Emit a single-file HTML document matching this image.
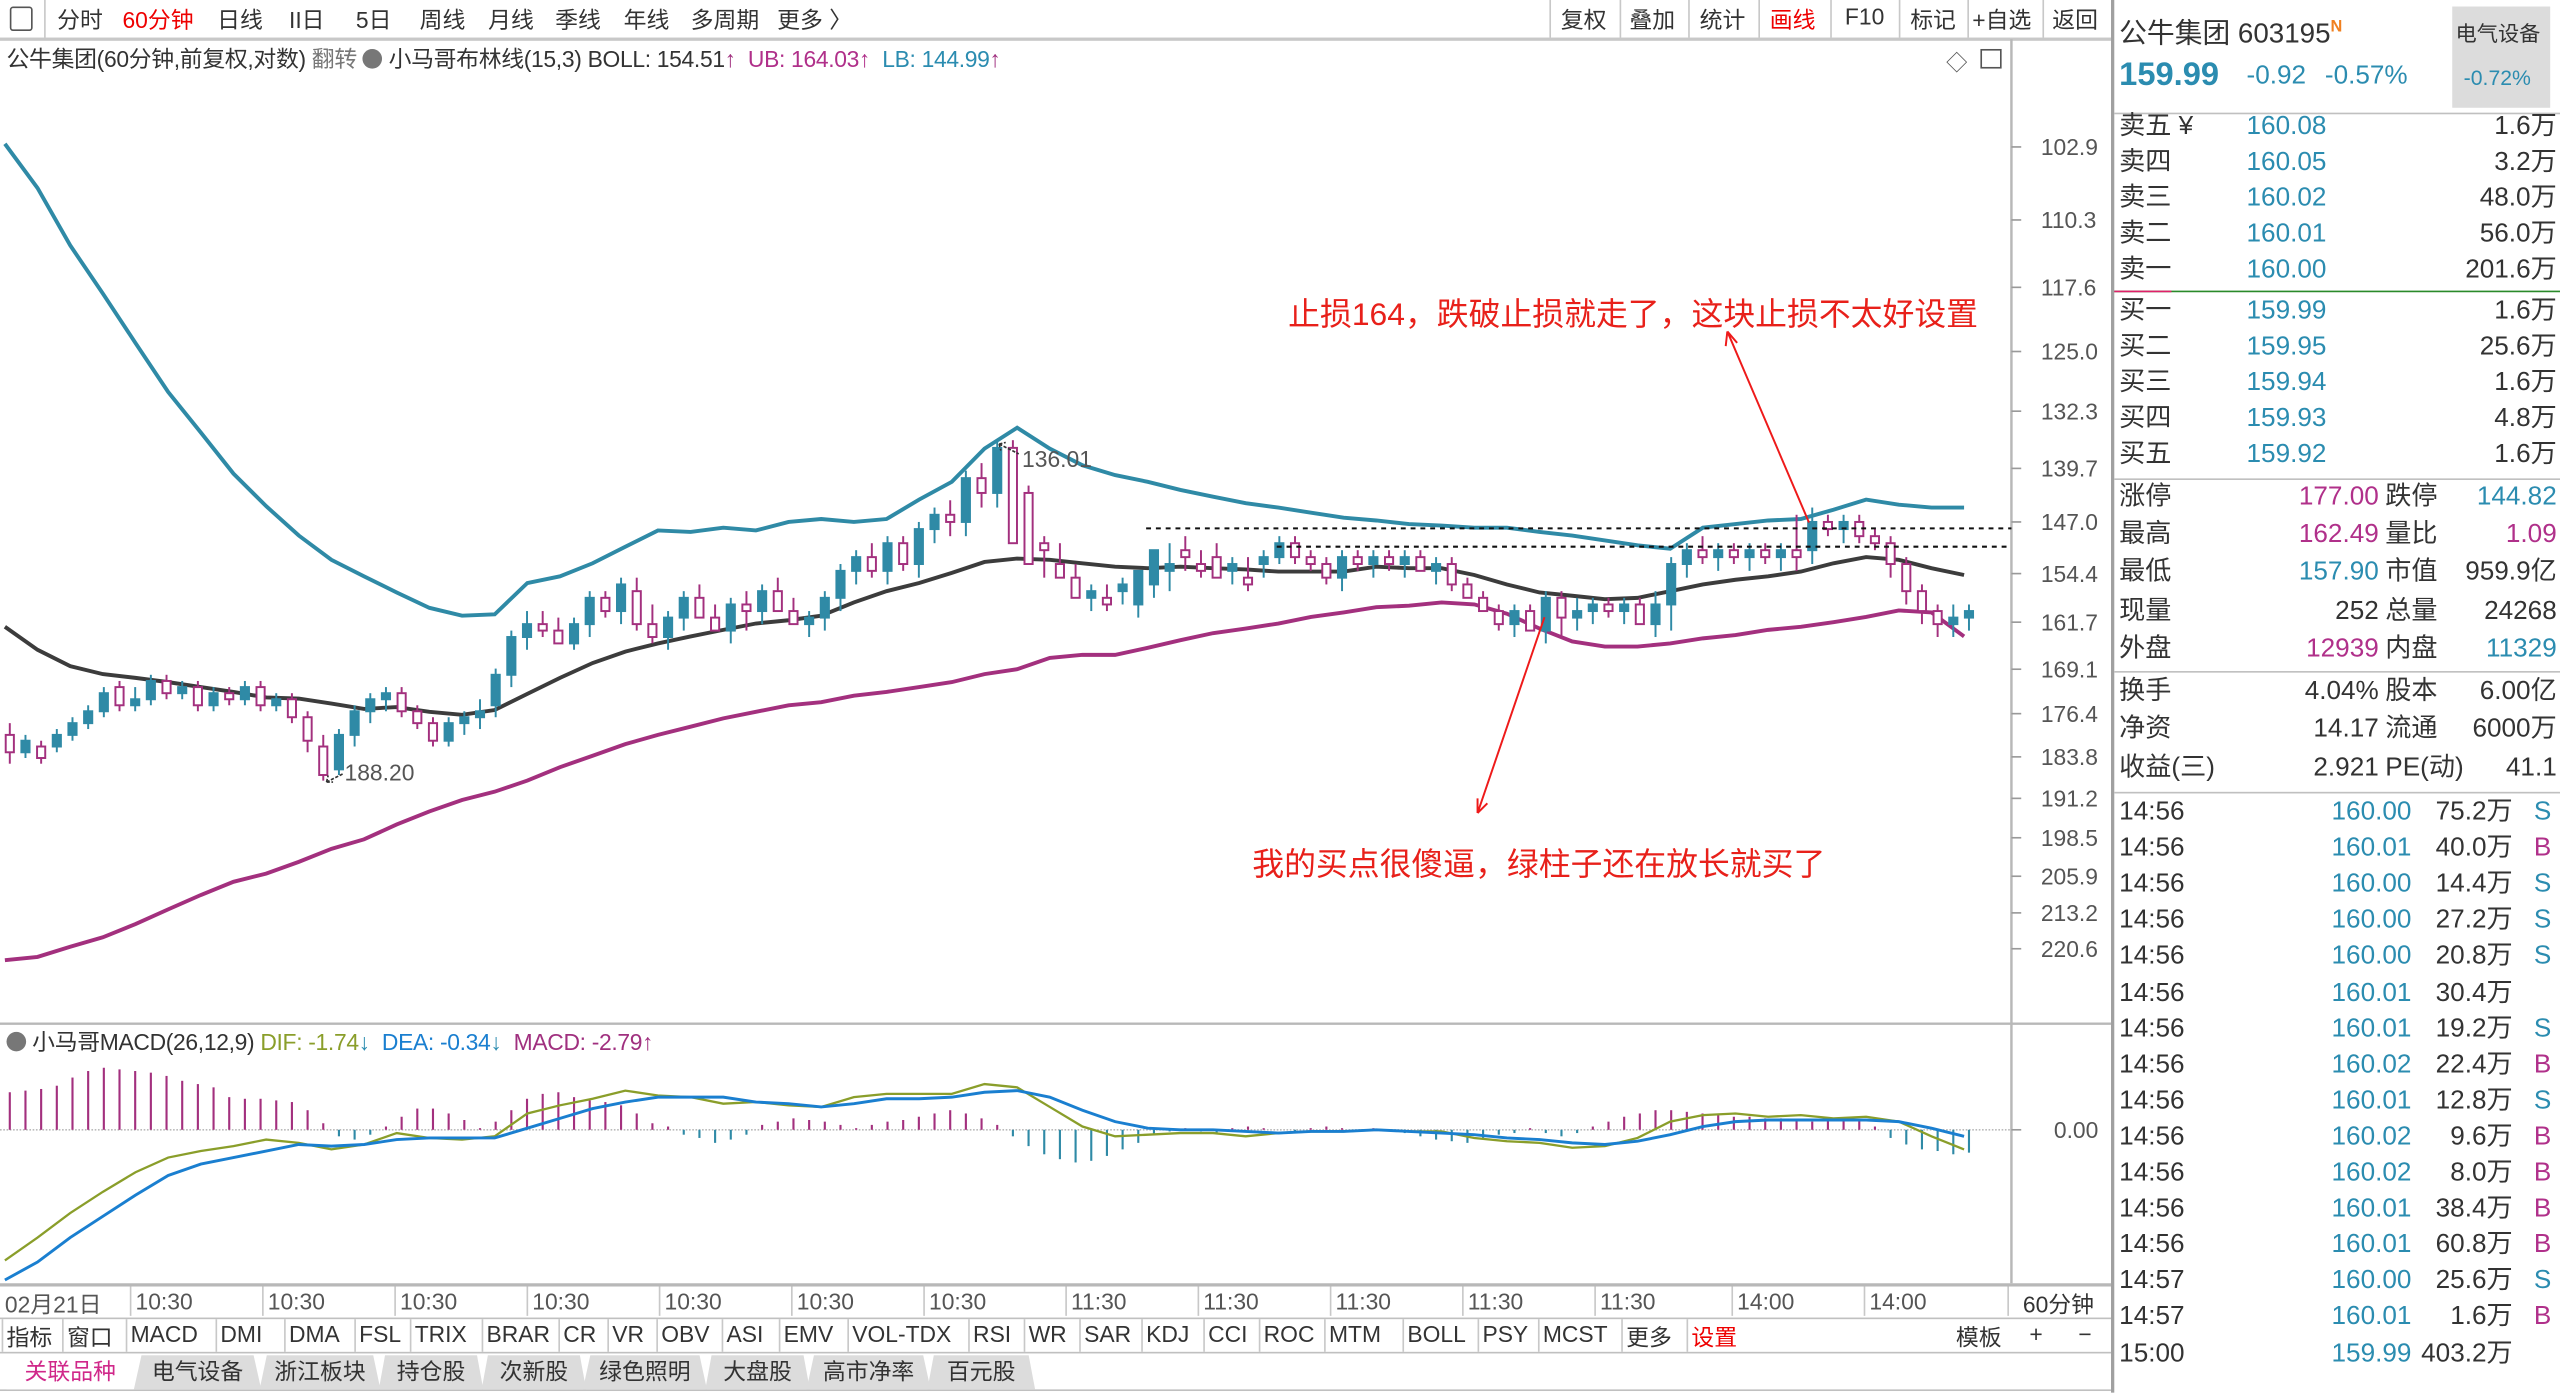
<!DOCTYPE html>
<html><head><meta charset="utf-8">
<style>
html,body{margin:0;padding:0;background:#fff;overflow:hidden;}
body{width:2560px;height:1392px;}
#wrap{position:absolute;left:0;top:0;width:1568px;height:853px;transform:scale(1.63265);transform-origin:0 0;font-family:"Liberation Sans","Noto Sans CJK SC",sans-serif;color:#333;background:#fff;}
.a{position:absolute;white-space:nowrap;}
.tb{font-size:14px;top:2px;color:#333;}
.sep{position:absolute;width:1px;background:#c8c8c8;}
.hl{position:absolute;height:1px;background:#c0c0c0;}
.tm{font-size:14px;color:#555;top:789px;}
.ind{font-size:14px;top:809px;color:#333;}
.tab{position:absolute;top:830px;height:21px;font-size:14px;line-height:21px;text-align:center;background:#dcdcdc;color:#333;clip-path:polygon(6% 0,94% 0,100% 100%,0 100%);}
.rp{font-size:16px;color:#333;line-height:20px;height:20px;}
.teal{color:#2b8cb0;}
.mag{color:#b0308a;}
.r{text-align:right;}
</style></head><body>
<div id="wrap">
<!-- toolbar -->
<div class="a" style="left:0;top:0;width:1293px;height:23px;border-bottom:2px solid #c8c8c8;"></div>
<div class="a" style="left:6px;top:4px;width:12px;height:13px;border:1.5px solid #555;border-radius:2px;"></div>
<div class="sep" style="left:27px;top:0;height:23px;"></div>
<div class="a tb" style="left:35px;">分时</div>
<div class="a tb" style="left:75px;color:#e00;">60分钟</div>
<div class="a tb" style="left:133px;">日线</div>
<div class="a tb" style="left:177px;">II日</div>
<div class="a tb" style="left:218px;">5日</div>
<div class="a tb" style="left:257px;">周线</div>
<div class="a tb" style="left:299px;">月线</div>
<div class="a tb" style="left:340px;">季线</div>
<div class="a tb" style="left:382px;">年线</div>
<div class="a tb" style="left:423px;">多周期</div>
<div class="a tb" style="left:476px;">更多 〉</div>
<div class="sep" style="left:949px;top:0;height:23px;"></div>
<div class="a tb" style="left:956px;">复权</div>
<div class="sep" style="left:992px;top:0;height:23px;"></div>
<div class="a tb" style="left:998px;">叠加</div>
<div class="sep" style="left:1034px;top:0;height:23px;"></div>
<div class="a tb" style="left:1041px;">统计</div>
<div class="sep" style="left:1077px;top:0;height:23px;"></div>
<div class="a tb" style="left:1084px;color:#e00;">画线</div>
<div class="sep" style="left:1121px;top:0;height:23px;"></div>
<div class="a tb" style="left:1130px;">F10</div>
<div class="sep" style="left:1163px;top:0;height:23px;"></div>
<div class="a tb" style="left:1170px;">标记</div>
<div class="sep" style="left:1205px;top:0;height:23px;"></div>
<div class="a tb" style="left:1208px;">+自选</div>
<div class="sep" style="left:1251px;top:0;height:23px;"></div>
<div class="a tb" style="left:1257px;">返回</div>

<!-- info line -->
<div class="a" style="left:4px;top:26px;font-size:14px;letter-spacing:-0.2px;">
<span style="color:#333">公牛集团(60分钟,前复权,对数)</span>
<span style="color:#777">翻转</span>
<span style="display:inline-block;width:12px;height:12px;border-radius:50%;background:#777;vertical-align:-1px;"></span>
<span>小马哥布林线(15,3)</span>
<span>BOLL: 154.51<span style="color:#a0307f">↑</span></span>
<span style="color:#b0308a">&nbsp;UB: 164.03<span>↑</span></span>
<span style="color:#2b8cb0">&nbsp;LB: 144.99<span style="color:#a0307f">↑</span></span>
</div>
<div class="a" style="left:1192px;top:28px;font-size:13px;color:#555;">◇</div>
<div class="a" style="left:1213px;top:30px;width:11px;height:10px;border:1.5px solid #555;"></div>

<svg class="a" id="chart" style="left:0;top:0;" width="1568" height="853" viewBox="0 0 1568 853"></svg>

<!-- annotations text -->
<div class="a" style="left:789px;top:176px;font-size:19.5px;color:#e8201a;">止损164，跌破止损就走了，这块止损不太好设置</div>
<div class="a" style="left:767px;top:513px;font-size:19.5px;color:#e8201a;">我的买点很傻逼，绿柱子还在放长就买了</div>
<div class="a" style="left:626px;top:273px;font-size:14px;color:#555;">136.01</div>
<div class="a" style="left:211px;top:465px;font-size:14px;color:#555;">188.20</div>

<!-- macd header -->
<div class="a" style="left:4px;top:628px;font-size:14px;letter-spacing:-0.2px;">
<span style="display:inline-block;width:12px;height:12px;border-radius:50%;background:#777;vertical-align:-1px;"></span>
<span>小马哥MACD(26,12,9)</span>
<span style="color:#8a9e2a">DIF: -1.74<span style="color:#2b8cb0">↓</span></span>
<span style="color:#1a7fd0">&nbsp;DEA: -0.34<span style="color:#2b8cb0">↓</span></span>
<span style="color:#a0307f">&nbsp;MACD: -2.79↑</span>
</div>
<div class="a" style="left:1258px;top:684px;font-size:14px;color:#555;">0.00</div>

<!-- time axis -->
<div class="hl" style="left:0;top:786px;width:1293px;background:#b8b8b8;height:2px;"></div>
<div class="a tm" style="left:3px;">02月21日</div>
<div class="a tm" style="left:83px;">10:30</div>
<div class="a tm" style="left:164px;">10:30</div>
<div class="a tm" style="left:245px;">10:30</div>
<div class="a tm" style="left:326px;">10:30</div>
<div class="a tm" style="left:407px;">10:30</div>
<div class="a tm" style="left:488px;">10:30</div>
<div class="a tm" style="left:569px;">10:30</div>
<div class="a tm" style="left:656px;">11:30</div>
<div class="a tm" style="left:737px;">11:30</div>
<div class="a tm" style="left:818px;">11:30</div>
<div class="a tm" style="left:899px;">11:30</div>
<div class="a tm" style="left:980px;">11:30</div>
<div class="a tm" style="left:1064px;">14:00</div>
<div class="a tm" style="left:1145px;">14:00</div>
<div class="a tm" style="left:1239px;color:#333;">60分钟</div>

<!-- indicator tabs -->
<div class="hl" style="left:0;top:807px;width:1293px;background:#c0c0c0;"></div>
<div class="hl" style="left:0;top:828px;width:1293px;background:#c0c0c0;"></div>
<div id="indrow"></div>
<div class="a ind" style="left:1198px;">模板</div>
<div class="a ind" style="left:1243px;">+</div>
<div class="a ind" style="left:1273px;">−</div>

<!-- bottom tabs -->
<div class="hl" style="left:0;top:851px;width:1293px;background:#c0c0c0;"></div>
<div class="tab" style="left:4px;width:78px;background:#fff;color:#d0288a;">关联品种</div>
<div class="tab" style="left:82px;width:78px;">电气设备</div>
<div class="tab" style="left:159px;width:74px;">浙江板块</div>
<div class="tab" style="left:232px;width:64px;">持仓股</div>
<div class="tab" style="left:295px;width:64px;">次新股</div>
<div class="tab" style="left:357px;width:76px;">绿色照明</div>
<div class="tab" style="left:432px;width:64px;">大盘股</div>
<div class="tab" style="left:494px;width:76px;">高市净率</div>
<div class="tab" style="left:568px;width:66px;">百元股</div>

<!-- right panel -->
<div class="sep" style="left:1293px;top:0;height:853px;background:#a0a0a0;width:2px;"></div>
<div class="a" style="left:1298px;top:6px;font-size:17px;color:#333;">公牛集团 603195<sup style="color:#f08020;font-size:10px;font-weight:bold;">N</sup></div>
<div class="a" style="left:1502px;top:4px;width:60px;height:62px;background:#dcdcdc;"></div>
<div class="a" style="left:1504px;top:10px;font-size:13px;color:#333;">电气设备</div>
<div class="a teal" style="left:1509px;top:40px;font-size:13px;">-0.72%</div>
<div class="a teal" style="left:1298px;top:35px;font-size:20px;font-weight:bold;">159.99</div>
<div class="a teal" style="left:1376px;top:38px;font-size:16px;">-0.92</div>
<div class="a teal" style="left:1424px;top:38px;font-size:16px;">-0.57%</div>
<div class="hl" style="left:1295px;top:69px;width:273px;"></div>
<div id="rpanel"></div>
</div>

<script>
// ---------- price data ----------
const opens = [180,183,182,182,180,178,176,172,175,174,171,173,172,175,173,174,172,175,174,177,
182,186,180,176,174,173,176,178,181,178,177,175,170,164,162,163,165,162,158,160,
157,162,164,161,158,161,163,159,160,157,160,162,161,158,154,152,154,150,153,148,
146,147,141,143,137,143,150,153,155,158,158,157,159,156,154,151,153,152,154,155,
153,152,150,152,153,155,152,153,152,153,152,154,153,156,158,160,162,160,163,158,
161,160,159,160,159,162,159,153,151,152,151,152,151,152,151,151,147,148,147,149,
150,153,157,160,162,161];
const closes = [183,181,184,180,178,176,173,175,174,171,173,172,175,173,174,172,175,174,177,181,
187,180,176,174,173,176,178,181,178,177,176,170,164,162,163,165,162,158,160,156,
162,164,161,158,161,163,159,160,157,160,162,161,158,154,152,154,150,153,148,146,
147,141,143,137,150,153,151,155,158,157,159,156,154,151,153,152,154,155,153,156,
152,150,152,153,155,152,153,152,153,152,154,153,156,158,160,162,160,163,158,161,
160,159,160,159,162,159,153,151,152,151,152,151,152,151,152,147,148,147,149,150,
153,157,160,162,161,160];
const highs = [185,184,185,183,181,179,177,176,176,175,174,174,176,176,175,175,176,176,178,183,
188,187,182,178,176,177,179,182,182,180,179,177,172,166,164,165,166,164,161,162,
163,165,166,163,161,163,165,163,162,160,162,164,163,160,156,155,156,154,155,150,
149,149,145,145,141,152,155,155,158,160,160,159,161,158,157,154,155,155,156,157,
155,153,153,154,156,157,154,155,154,155,154,156,157,158,160,163,164,162,165,164,
163,162,161,162,162,164,163,155,153,154,153,154,153,154,154,153,149,150,150,151,
155,159,162,164,164,163];
const lows = [178,180,181,179,177,175,172,171,172,170,170,171,171,172,172,171,171,173,173,176,
180,179,175,173,172,172,175,177,177,176,174,169,163,160,160,161,161,157,157,155,
155,159,160,157,156,159,158,157,156,155,158,160,157,153,151,150,149,149,147,145,
144,140,139,136,136,142,149,150,153,156,156,155,155,153,150,149,151,150,152,152,
151,149,149,151,152,151,151,151,151,151,151,152,152,155,157,159,159,159,157,157,
158,158,158,158,158,157,152,150,149,150,150,150,150,150,146,145,146,146,146,148,
149,152,156,159,159,159];
// Bollinger bands (sampled every 20px along the time axis)
const bandLB = [102.6,107.0,113.0,118.3,124.0,129.9,135.0,140.4,144.8,148.9,152.4,154.8,157.2,159.5,160.7,160.5,155.8,154.8,152.9,150.5,148.2,148.4,147.8,148.2,147.0,146.6,147.0,146.6,143.9,141.5,137.1,134.4,137.1,139.3,140.6,141.5,142.6,143.5,144.4,145.0,145.7,146.4,146.8,147.3,147.5,147.8,147.8,148.4,148.9,149.6,150.3,150.8,147.8,147.3,146.8,146.6,145.3,143.9,144.6,145.0,145.0];
const bandMid = [162.4,166.0,168.6,169.9,170.5,171.2,172.0,172.8,173.7,173.9,174.7,175.6,175.3,176.1,176.6,175.8,173.1,170.5,168.1,166.3,165.0,163.9,162.9,161.9,161.4,160.7,158.7,157.0,155.8,154.3,152.7,152.2,152.4,152.9,153.4,153.6,153.4,153.6,153.8,154.1,154.1,154.1,153.4,153.6,153.6,154.6,156.0,157.2,157.7,158.2,158.0,157.0,156.0,155.3,154.8,154.1,152.9,152.0,152.4,153.6,154.6];
const bandUB = [223.0,222.3,220.2,218.2,215.5,212.5,209.6,207.0,205.4,203.1,200.6,198.8,196.0,193.6,191.5,190.0,188.0,185.6,183.6,181.6,180.0,178.6,177.2,176.1,175.0,174.5,173.4,172.8,172.0,171.2,169.9,169.1,167.3,166.8,166.8,165.7,164.5,163.4,162.7,161.9,160.9,160.2,159.4,159.2,158.7,159.0,160.4,162.7,164.7,165.5,165.5,165.0,164.2,163.7,162.9,162.4,161.7,160.9,159.9,160.2,163.9];
const priceTicks = [102.9,110.3,117.6,125.0,132.3,139.7,147.0,154.4,161.7,169.1,176.4,183.8,191.2,198.5,205.9,213.2,220.6];
const stopLevels = [147.9,150.5];
// ---------- MACD data ----------
const macdHist = [2.3,2.4,2.5,2.7,3.2,3.6,3.8,3.7,3.6,3.5,3.3,3.0,2.8,2.6,2.0,1.9,1.9,1.8,1.7,1.2,
0.4,-0.4,-0.6,-0.3,0.2,0.8,1.3,1.3,1.0,0.6,0.1,0.5,1.2,1.9,2.2,2.3,2.0,1.8,1.7,1.5,
1.0,0.4,0.2,-0.3,-0.5,-0.8,-0.6,-0.3,0.3,0.5,0.7,0.6,0.5,0.3,0.1,0.3,0.5,0.6,0.8,1.0,
1.2,1.0,0.7,0.3,-0.4,-1.0,-1.5,-1.8,-2.0,-1.9,-1.6,-1.2,-0.8,-0.3,-0.1,0.1,-0.1,-0.2,0.1,0.2,
0.1,0.0,-0.1,0.1,0.2,0.1,0.0,0.1,-0.1,-0.2,-0.4,-0.6,-0.7,-0.8,-0.5,-0.3,-0.2,0.1,-0.2,-0.4,
-0.2,0.2,0.5,0.8,1.0,1.2,1.2,1.1,1.0,0.9,0.8,0.8,0.7,0.7,0.6,0.5,0.6,0.7,0.6,0.2,
-0.5,-0.9,-1.2,-1.3,-1.5,-1.4];
const difLine = [-8.0,-6.6,-5.1,-3.8,-2.6,-1.7,-1.3,-1.0,-0.6,-0.8,-1.2,-0.9,-0.2,-0.5,-0.6,-0.4,1.0,1.5,1.9,2.4,2.1,2.0,1.6,1.7,1.5,1.4,2.0,2.2,2.2,2.2,2.8,2.6,1.4,0.2,-0.4,-0.3,-0.2,-0.2,-0.4,-0.2,-0.1,-0.1,0.0,-0.1,-0.1,-0.5,-0.7,-0.8,-1.1,-1.0,-0.5,0.5,0.9,1.0,0.8,0.9,0.7,0.8,0.5,-0.4,-1.2];
const deaLine = [-9.2,-8.1,-6.6,-5.3,-4.0,-2.8,-2.1,-1.7,-1.3,-0.9,-1.0,-0.9,-0.6,-0.5,-0.5,-0.5,0.1,0.7,1.3,1.7,2.0,2.0,2.0,1.7,1.6,1.4,1.6,1.9,1.9,2.0,2.3,2.4,2.0,1.2,0.5,0.1,0.0,0.0,-0.1,-0.2,-0.1,-0.1,0.0,-0.1,-0.2,-0.3,-0.5,-0.6,-0.8,-0.9,-0.7,-0.3,0.2,0.5,0.6,0.6,0.6,0.6,0.5,0.1,-0.4];

const NS='http://www.w3.org/2000/svg';
const svg=document.getElementById('chart');
function mk(tag,attrs,parent){const e=document.createElementNS(NS,tag);for(const k in attrs)e.setAttribute(k,attrs[k]);(parent||svg).appendChild(e);return e;}
function yP(p){return 90+644*Math.log(p/102.9);}
function xC(i){return 6+9.6*i;}
function xB(k){return 3+20*k;}
function yM(v){return 692-v*10;}
const TEAL='#2f8aa6',MAG='#a3307e',BLK='#3c3c3c';

let e;
e=mk('line',{x1:1232,y1:24,x2:1232,y2:786,stroke:'#b8b8b8','stroke-width':1.5});


e=mk('line',{x1:0,y1:627,x2:1293,y2:627,stroke:'#b8b8b8','stroke-width':1.5});



const gT=mk('g',{});


priceTicks.forEach(function(p){
  const y=yP(p);
  const t=mk('line',{x1:1232,y1:y,x2:1238,y2:y,stroke:'#999'},gT);
  
  
  const l=mk('text',{x:1250,y:y+5,'font-size':14,fill:'#555','font-family':'Liberation Sans, sans-serif'},gT);
  
  
  l.textContent=p.toFixed(1);
});
e=mk('line',{x1:1232,y1:692,x2:1238,y2:692,stroke:'#999'});



const timeTickX=[80,161,242,323,404,485,566,653,734,815,896,977,1061,1142,1230];
timeTickX.forEach(function(x){
  const s=mk('line',{x1:x,y1:788,x2:x,y2:806,stroke:'#c8c8c8'});
  
  
});

const defs=mk('defs',{});
const cp=mk('clipPath',{id:'mainclip'},defs);
mk('rect',{x:0,y:45,width:1231,height:580},cp);

const gMain=mk('g',{'clip-path':'url(#mainclip)'});



function bandPath(arr){return arr.map(function(v,k){return (k?'L':'M')+xB(k).toFixed(1)+','+yP(v).toFixed(1);}).join('');}
e=mk('path',{d:bandPath(bandLB),fill:'none',stroke:TEAL,'stroke-width':2.4},gMain);


e=mk('path',{d:bandPath(bandMid),fill:'none',stroke:BLK,'stroke-width':2.4},gMain);


e=mk('path',{d:bandPath(bandUB),fill:'none',stroke:MAG,'stroke-width':2.4},gMain);



for(let i=0;i<closes.length;i++){
  const x=xC(i),o=opens[i],c=closes[i];
  const up=c>=o;
  const col=up?MAG:TEAL;
  const g=mk('g',{},gMain);
  
  
  const yt=yP(Math.min(o,c)),yb=yP(Math.max(o,c));
  mk('line',{x1:x,y1:yP(lows[i]),x2:x,y2:yt,stroke:col,'stroke-width':1.2},g);
  mk('line',{x1:x,y1:yb,x2:x,y2:yP(highs[i]),stroke:col,'stroke-width':1.2},g);
  mk('rect',{x:x-2.5,y:yt,width:5,height:Math.max(1.2,yb-yt),fill:up?'#fff':col,stroke:col,'stroke-width':1.2},g);
}

const stopStart=[702,782];
stopLevels.forEach(function(p,k){
  const l=mk('line',{x1:stopStart[k],y1:yP(p),x2:1232,y2:yP(p),stroke:'#111','stroke-width':1.3,'stroke-dasharray':'3,3'});
  
  
});

e=mk('path',{d:'M612,272 L624,278 M612,272 l4,-1 M612,272 l1,4',stroke:'#333',fill:'none','stroke-width':1,'stroke-dasharray':'2,1'});


e=mk('path',{d:'M200,479 L210,474 M200,479 l4,0 M200,479 l1,-4',stroke:'#333',fill:'none','stroke-width':1,'stroke-dasharray':'2,1'});



e=mk('path',{d:'M1108,320 L1058,203 M1058,203 l-1,9 M1058,203 l6,7',stroke:'#ee1a1a',fill:'none','stroke-width':1.2});


e=mk('path',{d:'M946,378 L905,498 M905,498 l0,-9 M905,498 l6,-6',stroke:'#ee1a1a',fill:'none','stroke-width':1.2});



const gM=mk('g',{});


e=mk('line',{x1:0,y1:692,x2:1231,y2:692,stroke:'#bbb','stroke-dasharray':'1,1'},gM);


macdHist.forEach(function(v,i){
  const b=mk('line',{x1:xC(i),y1:yM(0),x2:xC(i),y2:yM(v),stroke:v>=0?MAG:TEAL,'stroke-width':1.3},gM);
  
  
});
function mPath(arr){return arr.map(function(v,k){return (k?'L':'M')+xB(k).toFixed(1)+','+yM(v).toFixed(1);}).join('');}
e=mk('path',{d:mPath(difLine),fill:'none',stroke:'#8a9e2a','stroke-width':1.4},gM);


e=mk('path',{d:mPath(deaLine),fill:'none',stroke:'#1a7fd0','stroke-width':1.8},gM);



const indNames=['指标','窗口','MACD','DMI','DMA','FSL','TRIX','BRAR','CR','VR','OBV','ASI','EMV','VOL-TDX','RSI','WR','SAR','KDJ','CCI','ROC','MTM','BOLL','PSY','MCST','更多','设置'];
const indX=[4,41,80,135,177,220,254,298,345,375,405,445,480,522,596,630,664,702,740,774,814,862,908,945,996,1036];
const indRow=document.getElementById('indrow');
indNames.forEach(function(n,k){
  const d=document.createElement('div');
  d.className='a ind';
  d.style.left=indX[k]+'px';
  if(n==='设置')d.style.color='#e00';
  d.textContent=n;
  
  
  indRow.appendChild(d);
  const s=document.createElement('div');
  s.className='sep';
  s.style.left=(indX[k]-3)+'px';s.style.top='808px';s.style.height='20px';
  indRow.appendChild(s);
});

const rp=document.getElementById('rpanel');
function txt(t,x,y,cls,align,w){
  const d=document.createElement('div');
  d.className='a rp '+(cls||'');
  d.textContent=t;
  d.style.top=y+'px';
  if(align==='r'){d.style.left=(x-(w||80))+'px';d.style.width=(w||80)+'px';d.style.textAlign='right';}
  else d.style.left=x+'px';
  rp.appendChild(d);
  return d;
}
function hline(y,col){const h=document.createElement('div');h.className='hl';h.style.left='1295px';h.style.width='273px';h.style.top=y+'px';if(col)h.style.background=col;rp.appendChild(h);}
const askLabels=['卖五 ¥','卖四','卖三','卖二','卖一'];
const askPrices=['160.08','160.05','160.02','160.01','160.00'];
const askVols=['1.6万','3.2万','48.0万','56.0万','201.6万'];
askLabels.forEach(function(l,k){
  const y=68+k*22;
  let d=txt(l,1298,y);
  d=txt(askPrices[k],1376,y,'teal');
  d=txt(askVols[k],1566,y,'','r');
});
hline(178,'#2a8a2a');
const pk=document.createElement('div');pk.className='hl';pk.style.cssText='left:1295px;width:35px;top:178px;background:#e0206a;';rp.appendChild(pk);
const bidLabels=['买一','买二','买三','买四','买五'];
const bidPrices=['159.99','159.95','159.94','159.93','159.92'];
const bidVols=['1.6万','25.6万','1.6万','4.8万','1.6万'];
bidLabels.forEach(function(l,k){
  const y=181+k*22;
  let d=txt(l,1298,y);
  d=txt(bidPrices[k],1376,y,'teal');
  d=txt(bidVols[k],1566,y,'','r');
});
hline(293);
const stats=[['涨停','177.00','mag','跌停','144.82','teal'],['最高','162.49','mag','量比','1.09','mag'],['最低','157.90','teal','市值','959.9亿',''],['现量','252','','总量','24268',''],['外盘','12939','mag','内盘','11329','teal']];
stats.forEach(function(s,k){
  const y=295+k*23.2;
  let d=txt(s[0],1298,y);
  d=txt(s[1],1457,y,s[2],'r');
  d=txt(s[3],1461,y);
  d=txt(s[4],1566,y,s[5],'r');
});
hline(411);
const stats2=[['换手','4.04%','股本','6.00亿'],['净资','14.17','流通','6000万'],['收益(三)','2.921','PE(动)','41.1']];
stats2.forEach(function(s,k){
  const y=414+k*23.3;
  let d=txt(s[0],1298,y);
  d=txt(s[1],1457,y,'','r');
  d=txt(s[2],1461,y);
  d=txt(s[3],1566,y,'','r');
});
hline(485);
const tickTimes=['14:56','14:56','14:56','14:56','14:56','14:56','14:56','14:56','14:56','14:56','14:56','14:56','14:56','14:57','14:57','15:00'];
const tickPrices=['160.00','160.01','160.00','160.00','160.00','160.01','160.01','160.02','160.01','160.02','160.02','160.01','160.01','160.00','160.01','159.99'];
const tickVols=['75.2万','40.0万','14.4万','27.2万','20.8万','30.4万','19.2万','22.4万','12.8万','9.6万','8.0万','38.4万','60.8万','25.6万','1.6万','403.2万'];
const tickSides=['S','B','S','S','S','','S','B','S','B','B','B','B','S','B',''];
tickTimes.forEach(function(t,k){
  const y=488+k*22.1;
  let d=txt(t,1298,y);
  d=txt(tickPrices[k],1477,y,'teal','r');
  d=txt(tickVols[k],1539,y,'','r');
  if(tickSides[k]){d=txt(tickSides[k],1552,y,tickSides[k]==='S'?'teal':'mag');}
});
</script>
</body></html>
